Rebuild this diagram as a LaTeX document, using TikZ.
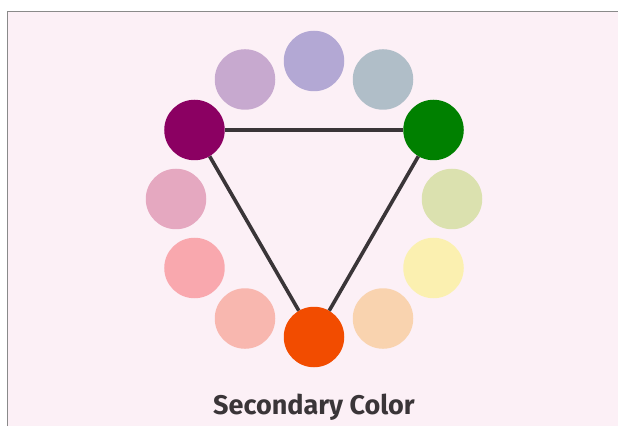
\documentclass[tikz,border=0pt]{standalone}
\usepackage{fontspec}
\setmainfont{Fira Sans}
\usepackage{xcolor}
\usepackage{tikz}
\usetikzlibrary{positioning,calc}

\definecolor{bgpink}{HTML}{FCF0F6}
\definecolor{framegray}{HTML}{8A8A8A}
\definecolor{linedark}{HTML}{3A3538}
\definecolor{cTop}{HTML}{B3A8D4}
\definecolor{cTopR}{HTML}{B0BEC8}
\definecolor{cGreen}{HTML}{008000}
\definecolor{cRight}{HTML}{DBE1AF}
\definecolor{cLowR}{HTML}{FBF0B0}
\definecolor{cBotR}{HTML}{F9D3AF}
\definecolor{cOrange}{HTML}{F24C00}
\definecolor{cBotL}{HTML}{F8B7AF}
\definecolor{cLowL}{HTML}{F9A8AE}
\definecolor{cLeft}{HTML}{E5A8C0}
\definecolor{cPurple}{HTML}{8B0062}
\definecolor{cTopL}{HTML}{C7A9CF}

\tikzset{
  wheeldot/.style={circle, minimum size=60.5pt, inner sep=0pt, fill=#1},
  triline/.style={line width=3.6pt, linedark}
}

\begin{document}
\begin{tikzpicture}[x=1pt,y=1pt]

\useasboundingbox (0,0) rectangle (618,426);

% page background and frame
\fill[bgpink] (7,0) rectangle (618,414);
\draw[framegray, line width=1pt] (7,0) -- (7,414) -- (618,414);

% wheel centre
\coordinate (mid) at (314,227);

% twelve colour dots
\foreach \ang/\col/\nm in {90/cTop/top, 60/cTopR/topr, 30/cGreen/green, 0/cRight/right,
    -30/cLowR/lowr, -60/cBotR/botr, -90/cOrange/orange, -120/cBotL/botl,
    -150/cLowL/lowl, 180/cLeft/left, 150/cPurple/purple, 120/cTopL/topl} {
  \node[wheeldot=\col] (\nm) at ($(mid)+(\ang:138)$) {};
}

% triangle of secondary colours
\draw[triline] (purple) -- (green);
\draw[triline] (green) -- (orange);
\draw[triline] (orange) -- (purple);

% title
\node[font=\bfseries\fontsize{27}{30}\selectfont, text=linedark] (title) at (314,19) {Secondary Color};

\end{tikzpicture}
\end{document}
